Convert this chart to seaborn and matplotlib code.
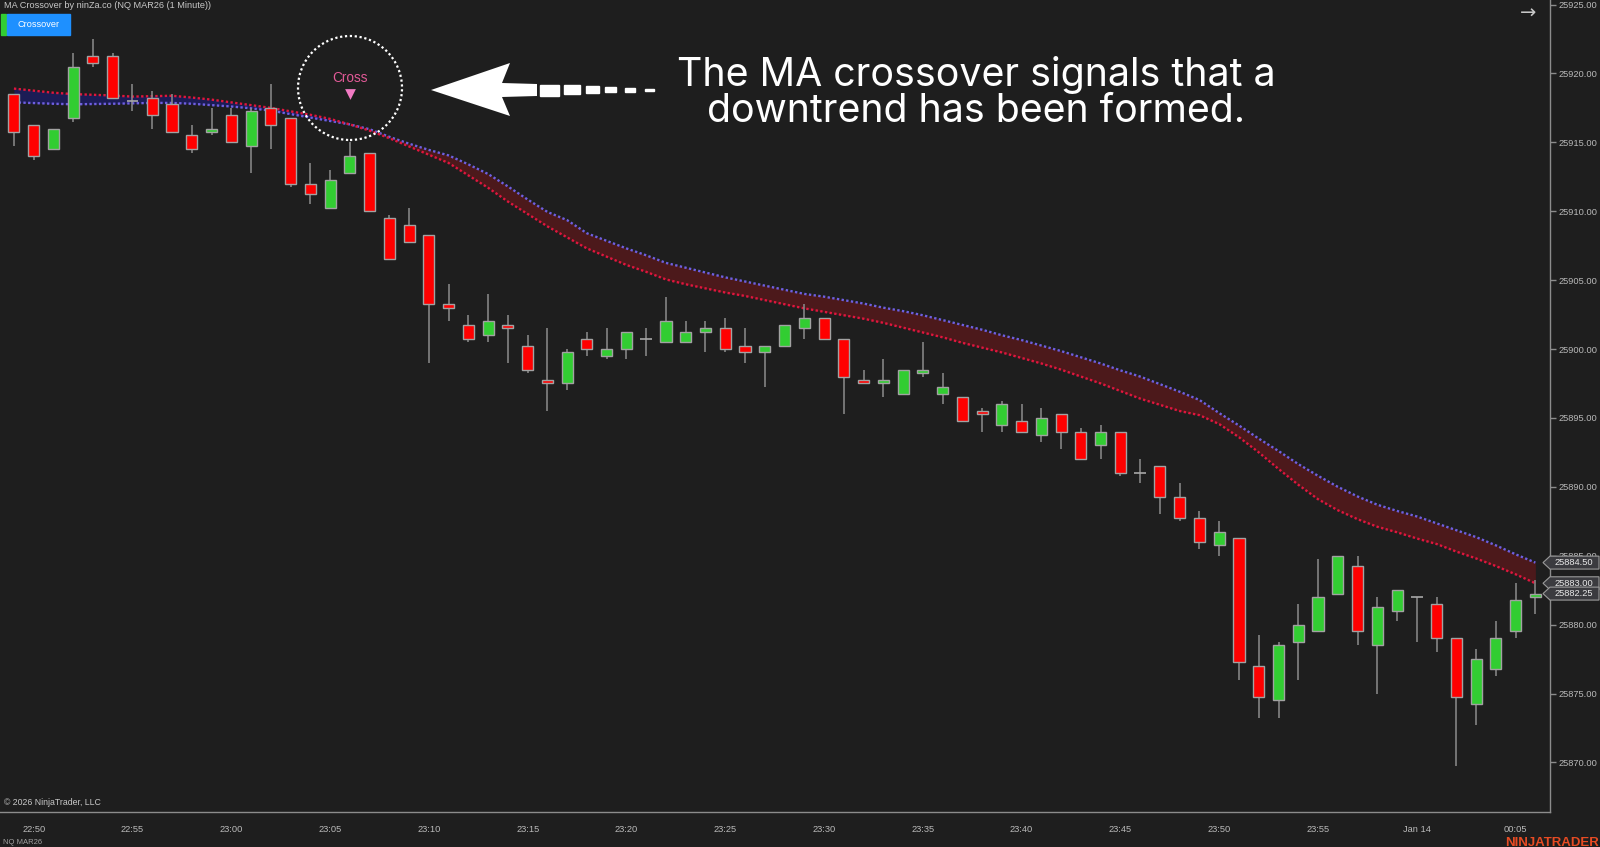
import numpy as np
import pandas as pd
import matplotlib
matplotlib.use("Agg")
import matplotlib.pyplot as plt
import matplotlib.transforms as mtransforms
from matplotlib.patches import Polygon, Ellipse, Rectangle
import seaborn as sns

# ---------------- data (minutes after 22:50) ----------------
minutes = list(range(-1, 77))
opens = [25918.5, 25916.25, 25914.5, 25916.75, 25921.25, 25921.25, 25918, 25918.25, 25917.75, 25915.5,
         25915.75, 25917, 25914.75, 25917.5, 25916.75, 25912, 25910.25, 25912.75, 25914.25, 25909.5,
         25909, 25908.25, 25903.25, 25901.75, 25901, 25901.75, 25900.25, 25897.75, 25897.5, 25900.75,
         25899.5, 25900, 25900.75, 25900.5, 25900.5, 25901.25, 25901.5, 25900.25, 25899.75, 25900.25,
         25901.5, 25902.25, 25900.75, 25897.75, 25897.5, 25896.75, 25898.25, 25896.75, 25896.5, 25895.5,
         25894.5, 25894.75, 25893.75, 25895.25, 25894, 25893, 25894, 25891, 25891.5, 25889.25,
         25887.75, 25885.75, 25886.25, 25877, 25874.5, 25878.75, 25879.5, 25882.25, 25884.25, 25878.5,
         25881, 25882, 25881.5, 25879, 25874.25, 25876.75, 25879.5, 25882]
highs = [25918.5, 25916.25, 25916, 25921.5, 25922.5, 25921.5, 25919.25, 25918.75, 25918.5, 25916.25,
         25917.5, 25917.5, 25917.5, 25919.25, 25916.75, 25913.5, 25913, 25915, 25914.25, 25909.75,
         25910.25, 25908.25, 25904.75, 25902.5, 25904, 25902.5, 25901, 25901.5, 25900, 25901.25,
         25901.5, 25901.25, 25901.5, 25903.75, 25902, 25902, 25902.25, 25901.5, 25900.25, 25901.75,
         25903.25, 25902.25, 25900.75, 25898.5, 25899.25, 25898.5, 25900.5, 25898.25, 25896.5, 25895.75,
         25896.25, 25896, 25895.75, 25895.25, 25894.25, 25894.5, 25894, 25892, 25891.5, 25890.25,
         25888.25, 25887.5, 25886.25, 25879.25, 25878.75, 25881.5, 25884.75, 25885, 25885, 25882,
         25882.5, 25882, 25882, 25879, 25878.25, 25880.25, 25883, 25883.25]
lows = [25914.75, 25913.75, 25914.5, 25916.5, 25920.5, 25918.25, 25917.25, 25916, 25915.75, 25914.25,
        25915.5, 25915, 25912.75, 25914.5, 25911.75, 25910.5, 25910.25, 25912.75, 25910, 25906.5,
        25907.75, 25899, 25902, 25900.5, 25900.5, 25899, 25898.25, 25895.5, 25897, 25899.5,
        25899.25, 25899.25, 25899.5, 25900.5, 25900.5, 25899.75, 25899.75, 25899, 25897.25, 25900.25,
        25900.75, 25900.75, 25895.25, 25897.5, 25896.5, 25896.75, 25898, 25896, 25894.75, 25894,
        25894, 25894, 25893.25, 25892.75, 25892, 25892, 25890.75, 25890.25, 25888, 25887.5,
        25885.5, 25885, 25876, 25873.25, 25873.25, 25876, 25879.5, 25882.25, 25878.5, 25875,
        25880.25, 25878.75, 25878, 25869.75, 25872.75, 25876.25, 25879, 25880.75]
closes = [25915.75, 25914, 25916, 25920.5, 25920.75, 25918.25, 25918, 25917, 25915.75, 25914.5,
          25916, 25915, 25917.25, 25916.25, 25912, 25911.25, 25912.25, 25914, 25910, 25906.5,
          25907.75, 25903.25, 25903, 25900.75, 25902, 25901.5, 25898.5, 25897.5, 25899.75, 25900,
          25900, 25901.25, 25900.75, 25902, 25901.25, 25901.5, 25900, 25899.75, 25900.25, 25901.75,
          25902.25, 25900.75, 25898, 25897.5, 25897.75, 25898.5, 25898.5, 25897.25, 25894.75, 25895.25,
          25896, 25894, 25895, 25894, 25892, 25894, 25891, 25891, 25889.25, 25887.75,
          25886, 25886.75, 25877.25, 25874.75, 25878.5, 25880, 25882, 25885, 25879.5, 25881.25,
          25882.5, 25882, 25879, 25874.75, 25877.5, 25879, 25881.75, 25882.25]
ma_slow = [25917.9, 25917.85, 25917.8, 25917.76, 25917.78, 25917.8, 25917.83, 25917.86, 25917.86, 25917.8,
           25917.7, 25917.6, 25917.47, 25917.3, 25917.05, 25916.8, 25916.55, 25916.3, 25915.95, 25915.4,
           25914.9, 25914.45, 25914.05, 25913.4, 25912.7, 25911.8, 25910.85, 25909.95, 25909.35, 25908.4,
           25907.85, 25907.3, 25906.8, 25906.25, 25905.9, 25905.55, 25905.2, 25904.9, 25904.6, 25904.3,
           25904.0, 25903.8, 25903.55, 25903.3, 25903.0, 25902.75, 25902.45, 25902.1, 25901.75, 25901.4,
           25901.0, 25900.65, 25900.25, 25899.85, 25899.4, 25898.95, 25898.45, 25898.0, 25897.45, 25896.9,
           25896.3, 25895.35, 25894.45, 25893.5, 25892.6, 25891.65, 25890.8, 25890.0, 25889.3, 25888.7,
           25888.25, 25887.85, 25887.35, 25886.85, 25886.35, 25885.75, 25885.1, 25884.5]
ma_fast = [25918.9, 25918.75, 25918.6, 25918.5, 25918.45, 25918.4, 25918.32, 25918.35, 25918.38, 25918.25,
           25918.1, 25917.9, 25917.7, 25917.5, 25917.25, 25917.0, 25916.7, 25916.3, 25915.85, 25915.3,
           25914.7, 25914.1, 25913.5, 25912.6, 25911.7, 25910.7, 25909.8, 25908.9, 25908.1, 25907.3,
           25906.7, 25906.1, 25905.6, 25905.05, 25904.7, 25904.4, 25904.1, 25903.85, 25903.55, 25903.25,
           25902.95, 25902.7, 25902.45, 25902.2, 25901.9, 25901.55, 25901.2, 25900.85, 25900.45, 25900.1,
           25899.75, 25899.35, 25898.95, 25898.5, 25898.0, 25897.5, 25896.95, 25896.4, 25895.95, 25895.5,
           25895.2, 25894.55, 25893.6, 25892.5, 25891.3, 25890.15, 25889.1, 25888.3, 25887.65, 25887.1,
           25886.7, 25886.25, 25885.85, 25885.3, 25884.8, 25884.25, 25883.65, 25883.0]

tick_minutes = [0, 5, 10, 15, 20, 25, 30, 35, 40, 45, 50, 55, 60, 65, 70, 75]
tick_labels = ["22:50", "22:55", "23:00", "23:05", "23:10", "23:15", "23:20", "23:25",
               "23:30", "23:35", "23:40", "23:45", "23:50", "23:55", "Jan 14", "00:05"]
price_ticks = [25870, 25875, 25880, 25885, 25890, 25895, 25900, 25905, 25910, 25915, 25920, 25925]
cross_minute = 16
cross_price = 25918.5
tag_prices = [25884.50, 25883.00, 25882.25]

# ---------------- style ----------------
sns.set_style("dark")
plt.rcParams["font.family"] = ["Liberation Sans", "DejaVu Sans"]
BG = "#1e1e1e"
GRAY = "#8c8c8c"
LBL = "#b9b9b9"

W, H = 1600, 847
fig = plt.figure(figsize=(16, 8.47), dpi=100)
fig.patch.set_facecolor(BG)
ax = fig.add_axes([0, 35 / H, 1550 / W, 812 / H])
ax.set_facecolor(BG)
ax.set_xlim(-1.705, 76.74)
ax.set_ylim(25866.4, 25925.33)
ax.grid(False)

m = np.array(minutes, dtype=float)
o = np.array(opens); h = np.array(highs); l = np.array(lows); c = np.array(closes)
fs = np.array(ma_fast); sl = np.array(ma_slow)

# MA band
ax.fill_between(m, fs, sl, where=fs >= sl, interpolate=True, color="#1c1c55", lw=0, zorder=1)
ax.fill_between(m, fs, sl, where=fs <= sl, interpolate=True, color="#4c191b", lw=0, zorder=1)
df = pd.DataFrame({"minute": m, "fast": fs, "slow": sl})
sns.lineplot(data=df, x="minute", y="slow", ax=ax, color="#6f5fe0", lw=1.7,
             linestyle=(0, (1, 1)), zorder=2)
sns.lineplot(data=df, x="minute", y="fast", ax=ax, color="#e0163e", lw=1.7,
             linestyle=(0, (1, 1)), zorder=2)
ax.set_xlabel(""); ax.set_ylabel("")

# candles
ax.vlines(m, l, h, color=GRAY, lw=1.1, zorder=3)
nd = c != o
cols = np.where(c > o, "#32cd32", "#ff0000")
ax.bar(m[nd], (c - o)[nd], bottom=o[nd], width=0.56, color=cols[nd],
       edgecolor="#a2a2a2", linewidth=1.0, zorder=4)
dj = ~nd
ax.hlines(o[dj], m[dj] - 0.3, m[dj] + 0.3, color="#a8a8a8", lw=1.2, zorder=4)

# cross signal
ax.scatter([cross_minute], [cross_price], marker="v", s=60, color="#f27bc4", zorder=6, lw=0)
ax.annotate("Cross", (cross_minute, cross_price), xytext=(0, 11.5), textcoords="offset points",
            ha="center", va="center", color="#e35a98", fontsize=9.8)

# axes
for sp in ["top", "left"]:
    ax.spines[sp].set_visible(False)
for sp in ["right", "bottom"]:
    ax.spines[sp].set_color(GRAY)
    ax.spines[sp].set_linewidth(1.0)
ax.yaxis.tick_right()
ax.set_yticks(price_ticks)
ax.set_yticklabels([f"{v:.2f}" for v in price_ticks])
ax.set_xticks(tick_minutes)
ax.set_xticklabels(tick_labels)
ax.tick_params(axis="y", direction="out", length=4, width=1, color=GRAY,
               labelcolor=LBL, labelsize=6.7, pad=2, right=True, left=False)
ax.tick_params(axis="x", direction="out", length=4, width=1, color=GRAY,
               labelcolor=LBL, labelsize=6.7, pad=5)

# price tags on the right axis
tr = mtransforms.blended_transform_factory(fig.transFigure, ax.transData)
hh = 0.47
for p in tag_prices:
    poly = Polygon([(1543 / W, p), (1550 / W, p + hh), (1599 / W, p + hh),
                    (1599 / W, p - hh), (1550 / W, p - hh)], closed=True,
                   transform=tr, facecolor="#3b3b3f", edgecolor="#9a9a9a", lw=0.8,
                   clip_on=False, zorder=10)
    ax.add_patch(poly)
    ax.text(1574 / W, p, f"{p:.2f}", transform=tr, ha="center", va="center",
            fontsize=6.7, color="#e8e8e8", zorder=11, clip_on=False)

# ---------------- annotations ----------------
def P(x, y):
    return (x / W, 1 - y / H)

fig.text(*P(4, 5.5), "MA Crossover by ninZa.co (NQ MAR26 (1 Minute))", ha="left", va="center",
         fontsize=6.6, color="#c8c8c8")
fig.patches.append(Rectangle(P(1, 35), 5 / W, 21 / H, transform=fig.transFigure,
                             color="#32cd32", zorder=1))
fig.patches.append(Rectangle(P(7, 35), 63 / W, 21 / H, transform=fig.transFigure,
                             color="#1e90ff", zorder=1))
fig.text(*P(38.5, 24.5), "Crossover", ha="center", va="center", fontsize=6.6, color="white",
         zorder=20)
fig.text(*P(1528, 13), "→", ha="center", va="center", fontsize=14, color="#c8c8c8",
         family="DejaVu Sans")
fig.text(*P(4, 802), "© 2026 NinjaTrader, LLC", ha="left", va="center", fontsize=6.3,
         color="#c8c8c8")
fig.text(*P(3, 842), "NQ MAR26", ha="left", va="center", fontsize=5.5, color="#a0a0a0")
fig.text(*P(1505, 846), "NINJATRADER", ha="left", va="baseline", fontsize=9.5,
         weight="bold", color="#e64b23")

# dotted circle
fig.patches.append(Ellipse(P(350, 88), 104 / W, 104 / H, transform=fig.transFigure,
                           fill=False, edgecolor="white", lw=1.6, ls=(0, (1, 1.2)), zorder=7))

# big white arrow
head = [(431, 90), (510, 63), (502, 83), (537, 84), (537, 96), (502, 97), (510, 116)]
fig.patches.append(Polygon([P(x, y) for x, y in head], closed=True, transform=fig.transFigure,
                           facecolor="white", edgecolor="none", zorder=7))
dashes = [(540, 559, 11), (564, 580, 9), (586, 599, 7), (605, 616, 5), (625, 635, 3.5), (645, 654, 2.5)]
for x0, x1, th in dashes:
    fig.patches.append(Rectangle(P(x0, 90 + th / 2), (x1 - x0) / W, th / H,
                                 transform=fig.transFigure, color="white", zorder=7))

fig.text(*P(976, 86.5), "The MA crossover signals that a", ha="center", va="baseline",
         fontsize=28.3, color="white", family="Inter", zorder=20)
fig.text(*P(976, 122.5), "downtrend has been formed.", ha="center", va="baseline",
         fontsize=28.3, color="white", family="Inter", zorder=20)

fig.savefig("out.png", dpi=100, facecolor=BG)
